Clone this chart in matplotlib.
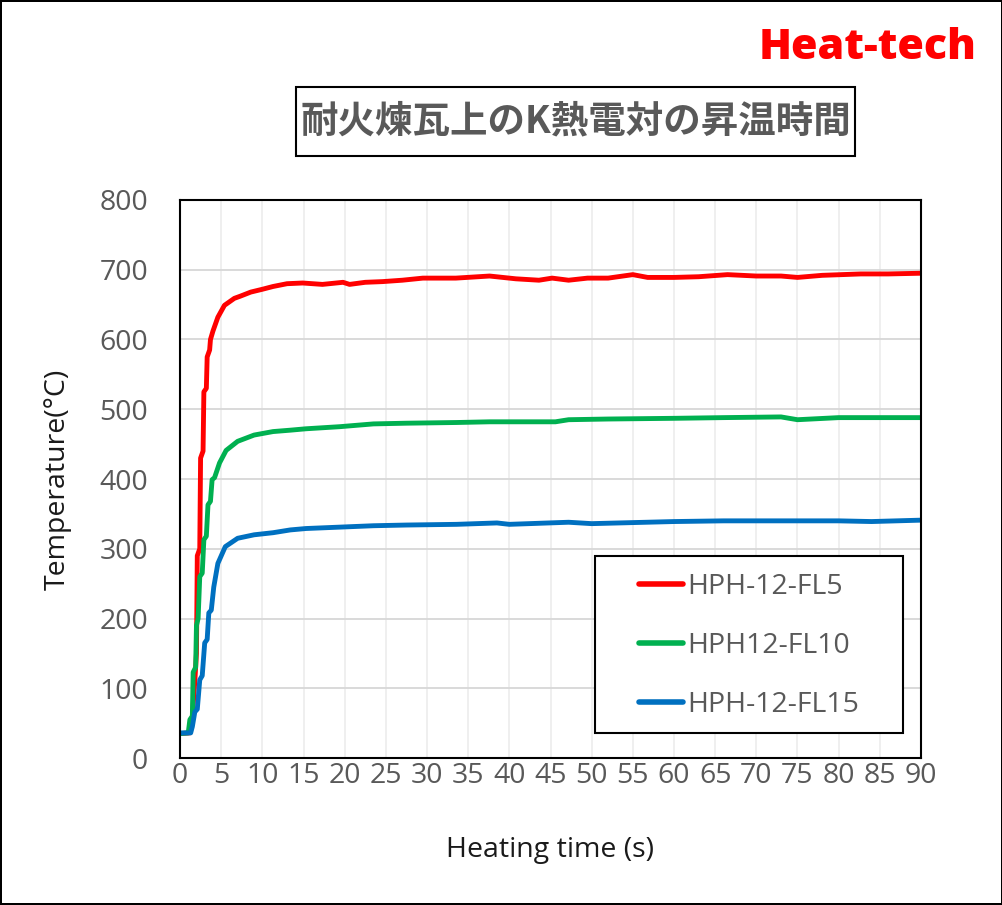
import matplotlib.pyplot as plt
import numpy as np
from matplotlib.patches import Rectangle

plt.rcParams['font.family'] = ['Open Sans', 'Noto Sans CJK JP', 'DejaVu Sans']

# データ
t_fl5 = [0, 1.2, 1.5, 1.8, 2.0, 2.1, 2.4, 2.5, 2.8, 2.9, 3.2, 3.3, 3.6, 3.7, 4.0,
         4.6, 5.4, 6.6, 7.3, 8.6, 10.0, 11.3, 13.0, 14.9, 17.3, 19.8, 20.6, 22.5,
         24.6, 27.0, 29.5, 33.5, 37.6, 40.8, 43.6, 45.2, 47.2, 49.5, 52.0, 55.0,
         56.8, 60.0, 63.0, 66.5, 70.0, 73.0, 75.0, 78.0, 82.7, 86.0, 90.0]
temp_fl5 = [35, 36, 60, 110, 150, 290, 300, 430, 440, 525, 530, 575, 585, 600, 612,
            632, 649, 659, 662, 668, 672, 676, 680, 681, 679, 682, 679, 682,
            683, 685, 688, 688, 691, 687, 685, 688, 685, 688, 688, 693,
            689, 689, 690, 693, 691, 691, 689, 692, 694, 694, 695]

t_fl10 = [0, 1.0, 1.2, 1.5, 1.6, 1.9, 2.0, 2.2, 2.4, 2.7, 2.9, 3.2, 3.4, 3.7, 3.9,
          4.2, 4.8, 5.6, 7.0, 9.0, 11.3, 13.4, 15.3, 19.4, 23.5, 27.5, 33.6, 37.6,
          45.6, 47.2, 52.0, 60.0, 66.0, 73.0, 75.0, 80.0, 90.0]
temp_fl10 = [35, 36, 55, 60, 123, 130, 190, 200, 260, 265, 313, 318, 363, 368, 399,
             402, 423, 441, 454, 463, 468, 470, 472, 475, 479, 480, 481, 482,
             482, 485, 486, 487, 488, 489, 485, 488, 488]

t_fl15 = [0, 1.3, 1.5, 1.8, 2.1, 2.4, 2.7, 3.0, 3.3, 3.5, 3.8, 4.1, 4.6, 5.5, 7.0,
          9.0, 11.3, 13.4, 15.3, 19.4, 23.5, 27.5, 33.6, 38.5, 40.0, 47.2, 50.0,
          60.0, 66.0, 73.0, 80.0, 84.0, 90.0]
temp_fl15 = [36, 36, 45, 66, 70, 112, 118, 165, 170, 208, 212, 245, 279, 303, 315,
             320, 323, 327, 329, 331, 333, 334, 335, 337, 335, 338, 336,
             339, 340, 340, 340, 339, 341]

labels = ['HPH-12-FL5', 'HPH12-FL10', 'HPH-12-FL15']
colors = ['#FF0000', '#00B050', '#0070C0']
x_ticks = np.arange(0, 91, 5)
y_ticks = np.arange(0, 801, 100)

gray = '#595959'
W, H = 1003, 905

fig = plt.figure(figsize=(W / 100, H / 100), dpi=100)
fig.patch.set_edgecolor('black')
fig.patch.set_linewidth(1.5)
ax = fig.add_axes([180 / W, 1 - 758 / H, 741 / W, 558 / H])

for t, v, lab, c in zip([t_fl5, t_fl10, t_fl15], [temp_fl5, temp_fl10, temp_fl15], labels, colors):
    ax.plot(t, v, color=c, lw=3.5, label=lab, solid_joinstyle='round', solid_capstyle='round')

ax.set_xlim(0, 90)
ax.set_ylim(0, 800)
ax.set_xticks(x_ticks)
ax.set_yticks(y_ticks)
ax.tick_params(axis='both', length=0, labelsize=20.5, labelcolor=gray)
ax.tick_params(axis='x', pad=3)
ax.tick_params(axis='y', pad=23)

# グリッド
for xv in x_ticks[1:-1]:
    ax.axvline(xv, color='#EFEFEF', lw=1.4, zorder=0)
for yv in y_ticks[1:-1]:
    ax.axhline(yv, color='#D9D9D9', lw=1.4, zorder=0)

for s in ax.spines.values():
    s.set_color('black')
    s.set_linewidth(1.5)

ax.set_xlabel('Heating time (s)', fontsize=20.5, color='#1a1a1a', labelpad=33)
ax.set_ylabel('Temperature(°C)', fontsize=20.5, color='#1a1a1a', labelpad=20)

# 凡例（枠は別に描く）
ax.add_patch(Rectangle((595 / W, 1 - 733 / H), 308 / W, 177 / H,
                       transform=fig.transFigure, facecolor='white',
                       edgecolor='black', lw=1.5, zorder=4, clip_on=False))
leg = ax.legend(loc='center left', bbox_to_anchor=(639 / W, 1 - 646 / H),
                bbox_transform=fig.transFigure, fontsize=20.5, labelcolor=gray,
                frameon=False, handlelength=1.55, handletextpad=0.15,
                labelspacing=1.09, borderpad=0, borderaxespad=0)
leg.set_zorder(5)
for line in leg.get_lines():
    line.set_linewidth(4)
    line.set_solid_capstyle('round')

# タイトル
fig.patches.append(Rectangle((296 / W, 1 - 156 / H), 559 / W, 69 / H,
                             transform=fig.transFigure, fill=False,
                             edgecolor='black', lw=1.5))
fig.text(576 / W, 1 - 121 / H, '耐火煉瓦上のK熱電対の昇温時間', ha='center', va='center',
         fontsize=27, fontweight='bold', color=gray,
         family=['Noto Sans CJK JP', 'DejaVu Sans'])

fig.text(977 / W, 1 - 48 / H, 'Heat-tech', ha='right', va='center',
         fontsize=31, fontweight='heavy', fontstretch='condensed', color='#FF0000',
         family=['Open Sans'])

fig.savefig('out.png', dpi=100)
